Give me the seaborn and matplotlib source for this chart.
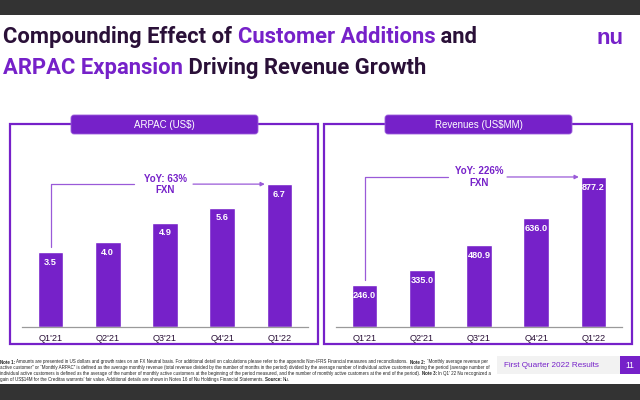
import matplotlib

matplotlib.use("Agg")

import matplotlib.pyplot as plt
import seaborn as sns
from matplotlib.patches import FancyBboxPatch, Rectangle

PURPLE = "#7621C9"
ARROW = "#9A5AD8"
DARK = "#2A1038"
GREY_BAR = "#333333"

QUARTERS = ["Q1'21", "Q2'21", "Q3'21", "Q4'21", "Q1'22"]
ARPAC = [3.5, 4.0, 4.9, 5.6, 6.7]
REVENUES = [246.0, 335.0, 480.9, 636.0, 877.2]
PANEL_TITLES = ["ARPAC (US$)", "Revenues (US$MM)"]
YOY_LABELS = ["YoY: 63%\nFXN", "YoY: 226%\nFXN"]

TITLE_LINE1 = [("Compounding Effect of ", DARK), ("Customer Additions", PURPLE), (" and", DARK)]
TITLE_LINE2 = [("ARPAC Expansion", PURPLE), (" Driving Revenue Growth", DARK)]

FOOTNOTE = [
    [("Note 1: ", "bold"), ("Amounts are presented in US dollars and growth rates on an FX Neutral basis. For additional detail on calculations please refer to the appendix Non-IFRS Financial measures and reconciliations.  ", "normal"), ("Note 2: ", "bold"), ("\u201cMonthly average revenue per", "normal")],
    [("active customer\u201d or \u201cMonthly ARPAC\u201d is defined as the average monthly revenue (total revenue divided by the number of months in the period) divided by the average number of individual active customers during the period (average number of", "normal")],
    [("individual active customers is defined as the average of the number of monthly active customers at the beginning of the period measured, and the number of monthly active customers at the end of the period). ", "normal"), ("Note 3: ", "bold"), ("In Q1\u2019 22 Nu recognized a", "normal")],
    [("gain of US$14M for the Creditas warrants\u2019 fair value. Additional details are shown in Notes 16 of Nu Holdings Financial Statements. ", "normal"), ("Source: ", "bold"), ("Nu.", "normal")],
]

sns.set_theme(style="white")
plt.rcParams["font.family"] = ["Liberation Sans", "DejaVu Sans"]
TITLE_FONT = ["Roboto", "Liberation Sans"]

fig = plt.figure(figsize=(6.4, 4), dpi=100)
renderer = fig.canvas.get_renderer()

# pixel canvas for all the slide decoration
bg = fig.add_axes([0, 0, 1, 1])
bg.set_xlim(0, 640)
bg.set_ylim(400, 0)
bg.axis("off")


def text_width(s, **kw):
    probe = bg.text(0, 0, s + "x", **kw)
    ref = bg.text(0, 0, "x", **kw)
    w = probe.get_window_extent(renderer).width - ref.get_window_extent(renderer).width
    probe.remove()
    ref.remove()
    return w


def runs_width(runs, **kw):
    return sum(text_width(txt, **style, **kw) for txt, style in runs)


def draw_runs(x, y, runs, **kw):
    for txt, style in runs:
        bg.text(x, y, txt, va="baseline", ha="left", **style, **kw)
        x += text_width(txt, **style, **kw)
    return x


# dark bars top and bottom
bg.add_patch(Rectangle((0, 0), 640, 15, color=GREY_BAR, lw=0))
bg.add_patch(Rectangle((0, 384), 640, 16, color=GREY_BAR, lw=0))

# title, sized to the slide width
title_kw = dict(weight="bold", family=TITLE_FONT)
line1_runs = [(t, {"color": c}) for t, c in TITLE_LINE1]
line2_runs = [(t, {"color": c}) for t, c in TITLE_LINE2]
title_size = 16
for _ in range(3):
    title_size *= 472 / runs_width(line1_runs, fontsize=title_size, **title_kw)
draw_runs(3, 43, line1_runs, fontsize=title_size, **title_kw)
draw_runs(3, 74, line2_runs, fontsize=title_size, **title_kw)
bg.text(610, 38, "nu", color=PURPLE, fontsize=16, weight="bold", ha="center", va="center")

# footnote, lines of the justified block end around x=491
note_runs = [[(t, {"weight": w, "color": "#222222"}) for t, w in line] for line in FOOTNOTE]
note_size = 3.5
for _ in range(3):
    note_size *= 489 / max(runs_width(r, fontsize=note_size) for r in note_runs[:3])
for i, runs in enumerate(note_runs):
    draw_runs(0, 363.5 + i * 5.7, runs, fontsize=note_size)

# footer tag
bg.add_patch(Rectangle((497, 356), 123, 18, color="#F2F2F2", lw=0))
bg.add_patch(Rectangle((620, 356), 20, 18, color=PURPLE, lw=0))
bg.text(504, 365.5, "First Quarter 2022 Results", color=PURPLE, fontsize=5.9, va="center")
bg.text(630, 365.5, "11", color="white", fontsize=6.2, va="center", ha="center")

panels = [
    (ARPAC, 10, 22, 8.3),
    (REVENUES, 324, 336, 1035),
]

for (values, box_x, ax_x, ymax), title, yoy in zip(panels, PANEL_TITLES, YOY_LABELS):
    bg.add_patch(Rectangle((box_x, 124), 308, 220, fill=False, edgecolor=PURPLE, lw=1.6))
    pill = FancyBboxPatch((box_x + 61, 115), 187, 19, boxstyle="round,pad=0,rounding_size=3",
                          facecolor=PURPLE, edgecolor="#9B5FDB", lw=0.6)
    bg.add_patch(pill)
    bg.text(box_x + 154.5, 124.8, title, color="white", fontsize=7, ha="center", va="center")

    ax = fig.add_axes([ax_x / 640, 1 - 327 / 400, 286 / 640, 177 / 400])
    ax.patch.set_alpha(0)
    sns.barplot(x=QUARTERS, y=values, color=PURPLE, saturation=1, width=0.45, ax=ax)
    ax.set_xlim(-0.5, len(values) - 0.5)
    ax.set_ylim(0, ymax)
    ax.set_yticks([])
    ax.set_xlabel("")
    ax.set_ylabel("")
    for side in ["left", "top", "right"]:
        ax.spines[side].set_visible(False)
    ax.spines["bottom"].set_color("#9A9A9A")
    ax.spines["bottom"].set_linewidth(0.9)
    ax.tick_params(axis="x", length=0, pad=5, labelsize=6.6, labelcolor=DARK)

    for i, v in enumerate(values):
        ax.annotate(f"{v:.1f}", (i, v), xytext=(0, -7.5), textcoords="offset points",
                    ha="center", va="center", color="white", fontsize=6.6, weight="bold")

    # YoY bracket arrow from first to last quarter
    level = max(values)
    start = values[0] + 0.028 * ymax
    end = len(values) - 1 - 0.225 - 0.03
    ax.plot([0, 0, 1.46], [start, level, level], color=ARROW, lw=0.9, clip_on=False)
    ax.annotate("", xy=(end, level), xytext=(2.49, level),
                arrowprops=dict(arrowstyle="-|>", color=ARROW, lw=0.9, mutation_scale=6,
                                shrinkA=0, shrinkB=0))
    ax.text(2, level, yoy, color=PURPLE, fontsize=7, weight="bold", ha="center", va="center",
            multialignment="center", linespacing=1.15)

fig.savefig("out.png", dpi=100)
